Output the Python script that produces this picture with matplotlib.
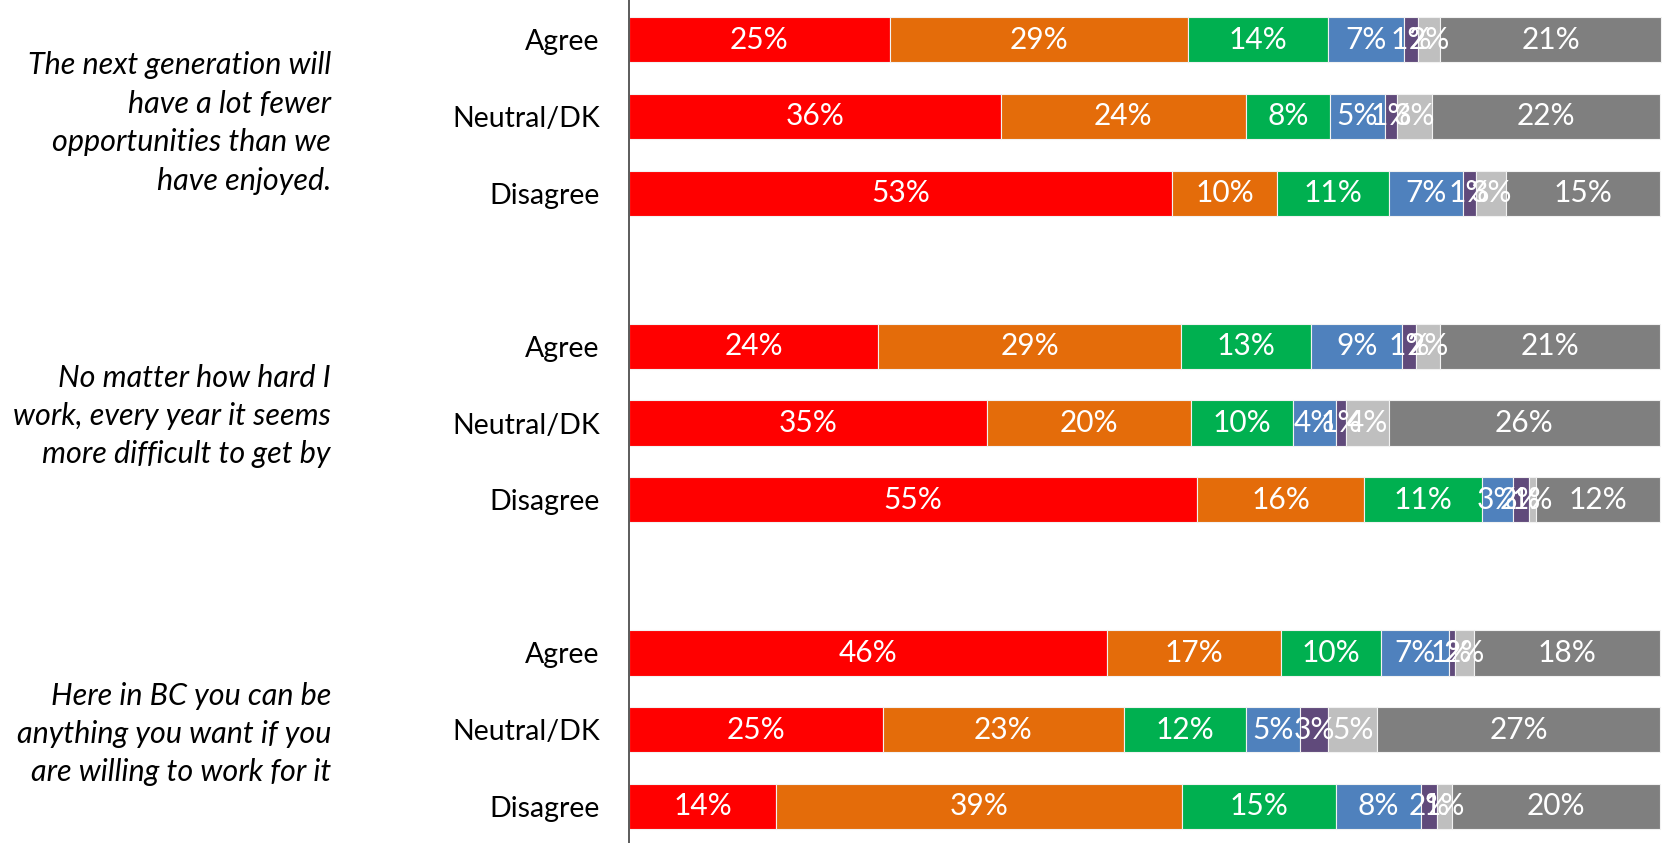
import numpy as np
import matplotlib.pyplot as plt
import matplotlib

matplotlib.rcParams['font.family'] = ['Lato', 'DejaVu Sans']

# three statements, each split by Agree / Neutral/DK / Disagree
statements = ["The next generation will\nhave a lot fewer\nopportunities than we\nhave enjoyed.",
              "No matter how hard I\nwork, every year it seems\nmore difficult to get by",
              "Here in BC you can be\nanything you want if you\nare willing to work for it"]
groups = ["Agree", "Neutral/DK", "Disagree"]

# segment values (%) per row, top to bottom
red    = [25.3, 36.1, 52.7, 24.2, 34.7, 55.1, 46.4, 24.6, 14.3]
orange = [28.9, 23.7, 10.2, 29.3, 19.8, 16.2, 16.8, 23.4, 39.3]
green  = [13.6, 8.2, 10.8, 12.7, 9.9, 11.4, 9.7, 11.8, 15.0]
blue   = [7.4, 5.3, 7.2, 8.8, 4.2, 3.0, 6.6, 5.3, 8.2]
purple = [1.3, 1.2, 1.3, 1.3, 0.9, 1.6, 0.6, 2.7, 1.6]
light  = [2.2, 3.4, 2.9, 2.4, 4.2, 0.7, 1.9, 4.8, 1.4]
gray   = [21.4, 22.1, 14.9, 21.3, 26.3, 12.0, 18.0, 27.4, 20.2]

series = [red, orange, green, blue, purple, light, gray]
colors = ['#FF0000', '#E46C0A', '#00B050', '#4F81BD', '#604A7B', '#BFBFBF', '#7F7F7F']

rows = [0, 1, 2, 4, 5, 6, 8, 9, 10]
labels = groups * 3

fig = plt.figure(figsize=(16.62, 8.43), dpi=100)
ax = fig.add_axes([629/1662, 0, 1 - 629/1662, 1])

left = np.zeros(len(rows))
for vals, c in zip(series, colors):
    vals = np.array(vals)
    ax.barh(rows, vals, left=left, height=0.59, color=c, edgecolor='#F2F2F2', linewidth=0.8)
    for y, x0, v in zip(rows, left, vals):
        ax.text(x0 + v/2, y, f"{round(v):.0f}%", ha='center', va='center',
                color='white', fontsize=21.5)
    left += vals

ax.set_xlim(0, 100.2)
ax.set_ylim(10.48, -0.52)
ax.set_yticks(rows)
ax.set_yticklabels(labels, fontsize=20.5)
ax.tick_params(axis='y', length=0, pad=21)
ax.set_xticks([])
for s in ['top', 'right', 'bottom']:
    ax.spines[s].set_visible(False)
ax.spines['left'].set_color('#404040')
ax.spines['left'].set_linewidth(1.2)

# statement texts, vertical centres in pixels from the top
text_y = [123, 416, 734]
for st, ypx in zip(statements, text_y):
    fig.text(331/1662, 1 - ypx/843, st, ha='right', va='center', fontsize=22,
             style='italic', linespacing=1.45)

plt.savefig('out.png', dpi=100)
